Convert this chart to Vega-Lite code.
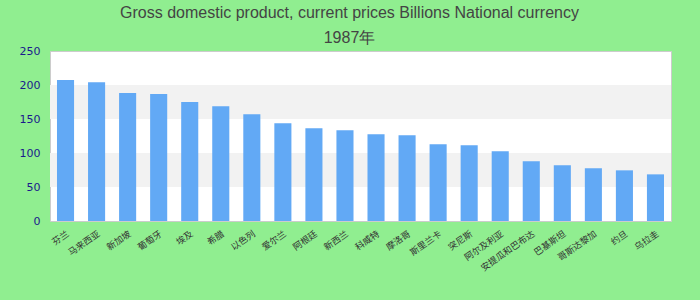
{
  "$schema": "https://vega.github.io/schema/vega-lite/v6.json",
  "width": 621,
  "height": 170,
  "autosize": {"type": "none"},
  "padding": {"left": 50, "top": 51, "right": 29, "bottom": 79},
  "background": "#90EE90",
  "title": {
    "text": ["Gross domestic product, current prices Billions National currency", "1987年"],
    "fontSize": 16,
    "font": "Liberation Sans",
    "fontWeight": "normal",
    "color": "#444444",
    "anchor": "middle",
    "dx": -11,
    "offset": -1,
    "lineHeight": 25
  },
  "config": {
    "view": {"stroke": "#cccccc", "fill": "#ffffff"},
    "axisY": {
      "title": null,
      "values": [0, 50, 100, 150, 200, 250],
      "ticks": false,
      "domain": false,
      "grid": false,
      "labelColor": "#1a1a8c",
      "labelFontSize": 11,
      "labelFont": "DejaVu Sans",
      "labelPadding": 10,
      "labelOverlap": false
    }
  },
  "layer": [
    {
      "data": {"values": [{"lo": 50, "hi": 100}, {"lo": 150, "hi": 200}]},
      "mark": {"type": "rect", "color": "#f2f2f2"},
      "encoding": {
        "y": {
          "field": "lo",
          "type": "quantitative",
          "scale": {"domain": [0, 250]},
          "axis": {"title": null, "values": [0, 50, 100, 150, 200, 250], "labelOverlap": false}
        },
        "y2": {"field": "hi"}
      }
    },
    {
      "data": {
        "values": [
          {"country": "芬兰", "gdp": 207.2},
          {"country": "马来西亚", "gdp": 204.2},
          {"country": "新加坡", "gdp": 188.3},
          {"country": "葡萄牙", "gdp": 186.8},
          {"country": "埃及", "gdp": 175.0},
          {"country": "希腊", "gdp": 168.9},
          {"country": "以色列", "gdp": 157.0},
          {"country": "爱尔兰", "gdp": 143.8},
          {"country": "阿根廷", "gdp": 136.4},
          {"country": "新西兰", "gdp": 133.5},
          {"country": "科威特", "gdp": 127.6},
          {"country": "摩洛哥", "gdp": 126.1},
          {"country": "斯里兰卡", "gdp": 112.8},
          {"country": "突尼斯", "gdp": 111.4},
          {"country": "阿尔及利亚", "gdp": 102.5},
          {"country": "安提瓜和巴布达", "gdp": 87.8},
          {"country": "巴基斯坦", "gdp": 81.9},
          {"country": "哥斯达黎加", "gdp": 77.4},
          {"country": "约旦", "gdp": 74.5},
          {"country": "乌拉圭", "gdp": 68.6}
        ]
      },
      "mark": {"type": "bar", "color": "#62a9f5"},
      "encoding": {
        "x": {
          "field": "country",
          "type": "nominal",
          "sort": null,
          "scale": {"paddingInner": 0.45, "paddingOuter": 0.225},
          "axis": {
            "title": null,
            "ticks": false,
            "domain": false,
            "labelAngle": -35,
            "labelFontSize": 9,
            "labelColor": "#333333",
            "labelPadding": 8,
            "labelFont": "Noto Sans CJK SC"
          }
        },
        "y": {
          "field": "gdp",
          "type": "quantitative",
          "scale": {"domain": [0, 250]},
          "axis": {"title": null, "values": [0, 50, 100, 150, 200, 250], "labelOverlap": false}
        }
      }
    }
  ]
}
